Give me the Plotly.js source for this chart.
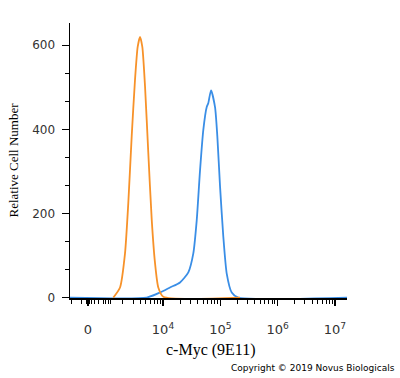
<!DOCTYPE html>
<html><head><meta charset="utf-8">
<script src="https://cdn.plot.ly/plotly-3.0.1.min.js"></script>
<style>html,body{margin:0;padding:0;background:#fff}#chart{width:400px;height:378px}</style>
</head><body><div id="chart"></div>
<script>
// x positions are in display-scale decade units (log10 of fluorescence in the log region)
const isoX = [3.133,3.250,3.337,3.394,3.454,3.511,3.558,3.599,3.639,3.686,3.743,3.803,3.860,3.918,4.005,5.344];
const isoY = [0,24,105,224,384,517,596,620,596,503,345,186,83,24,2,0];
const mycX = [2.377,3.716,3.948,4.122,4.297,4.442,4.529,4.588,4.646,4.703,4.763,4.790,4.838,4.908,4.948,4.995,5.052,5.112,5.199,5.314,7.211];
const mycY = [0,0,12,24,36,60,105,183,302,398,453,462,493,453,384,265,146,57,12,0,0];
const xTickVals = [2.691,4,5,6,7];
const xTickText = ['0','10<sup>4</sup>','10<sup>5</sup>','10<sup>6</sup>','10<sup>7</sup>'];
const xLinearMinor = [2.40,2.585,2.67,2.71,2.76,2.81,2.88,2.97,3.0,3.05,3.08];
const minorMult = [2,3,4,5,6,7,8,9];
const decades = [3,4,5,6];
const xMinor = xLinearMinor.slice();
decades.forEach(n => minorMult.forEach(k => { const v = n + Math.log10(k); if (v < 7.2) xMinor.push(v); }));

Plotly.newPlot('chart', [
  {x: mycX, y: mycY, type:'scatter', mode:'lines', line:{color:'#3a8ee6', width:1.8, shape:'spline', smoothing:0.6}, hoverinfo:'skip'},
  {x: isoX, y: isoY, type:'scatter', mode:'lines', line:{color:'#f7922a', width:1.8, shape:'spline', smoothing:0.6}, hoverinfo:'skip'}
], {
  width:400, height:378, showlegend:false,
  paper_bgcolor:'#fff', plot_bgcolor:'#fff',
  margin:{l:70, r:53, t:23, b:80},
  xaxis:{range:[2.377,7.211], showgrid:false, zeroline:false, showline:true, linecolor:'#000', linewidth:1.5,
    ticks:'outside', ticklen:6, tickwidth:1.2, tickcolor:'#000', tickmode:'array', tickvals:xTickVals, ticktext:xTickText,
    ticklabelstandoff:13, tickfont:{family:'DejaVu Sans, sans-serif', size:13, color:'#333'},
    minor:{tickmode:'array', tickvals:xMinor, ticks:'outside', ticklen:4, tickwidth:1, tickcolor:'#000', showgrid:false}},
  yaxis:{range:[-1, 653], showgrid:false, zeroline:false, showline:true, linecolor:'#000', linewidth:1.5,
    ticks:'outside', ticklen:7, tickwidth:1.2, tickcolor:'#000', dtick:200, tick0:0,
    ticklabelstandoff:4, tickfont:{family:'DejaVu Sans, sans-serif', size:12, color:'#333'},
    minor:{dtick:200/3, tick0:0, ticks:'outside', ticklen:4, tickwidth:1, tickcolor:'#000', showgrid:false},
    title:{text:'Relative Cell Number', standoff:10, font:{family:'Liberation Serif, Times New Roman, serif', size:13, color:'#000'}}},
  annotations:[
    {text:'c-Myc (9E11)', xref:'paper', yref:'paper', x:0.509, y:-0.189, xanchor:'center', yanchor:'middle',
     showarrow:false, font:{family:'Liberation Serif, Times New Roman, serif', size:16, color:'#000'}},
    {text:'Copyright \u00a9 2019 Novus Biologicals', xref:'paper', yref:'paper', x:1.18, y:-0.2545, xanchor:'right', yanchor:'middle',
     showarrow:false, font:{family:'DejaVu Sans, sans-serif', size:9, color:'#000'}}]
}, {displayModeBar:false, staticPlot:true});
</script></body></html>
